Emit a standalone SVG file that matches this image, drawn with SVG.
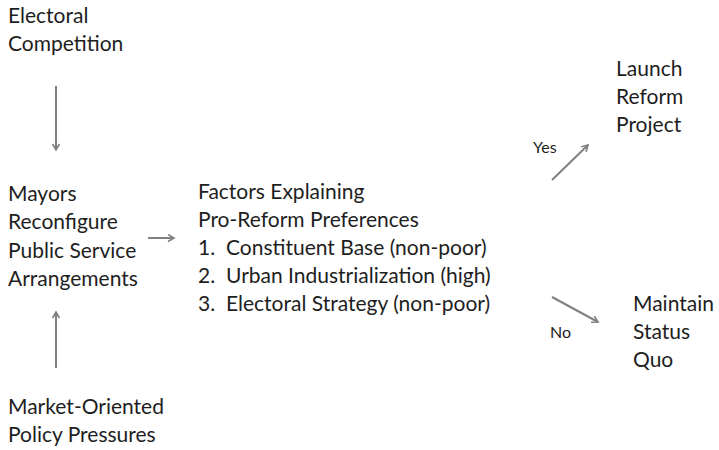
<svg xmlns="http://www.w3.org/2000/svg" width="719" height="450" viewBox="0 0 719 450">
<defs>
<marker id="ah" markerWidth="9" markerHeight="9" refX="7" refY="4.5" orient="auto" markerUnits="userSpaceOnUse">
<path d="M1,1 L7,4.5 L1,8" fill="none" stroke="#808080" stroke-width="1.6"/>
</marker>
</defs>
<style>
.t{font-family:"Lato","Open Sans","Liberation Sans",sans-serif;font-size:21px;fill:#1e1e1e}
.s{font-family:"Lato","Open Sans","Liberation Sans",sans-serif;font-size:16px;fill:#1e1e1e}
.c{stroke:#808080;stroke-width:2;fill:none;marker-end:url(#ah)}
</style>
<rect width="719" height="450" fill="#fff"/>
<g id="electoral"><text class="t" x="8" y="23">Electoral</text><text class="t" x="8" y="51">Competition</text></g>
<g id="mayors"><text class="t" x="8" y="201">Mayors</text><text class="t" x="8" y="229">Reconfigure</text><text class="t" x="8" y="258">Public Service</text><text class="t" x="8" y="286">Arrangements</text></g>
<g id="market"><text class="t" x="8" y="414">Market-Oriented</text><text class="t" x="8" y="442">Policy Pressures</text></g>
<g id="factors"><text class="t" x="198" y="199">Factors Explaining</text><text class="t" x="198" y="227">Pro-Reform Preferences</text>
<text class="t" x="198" y="255">1.</text><text class="t" x="226" y="255">Constituent Base (non-poor)</text>
<text class="t" x="198" y="283">2.</text><text class="t" x="226" y="283">Urban Industrialization (high)</text>
<text class="t" x="198" y="311">3.</text><text class="t" x="226" y="311">Electoral Strategy (non-poor)</text></g>
<g id="launch"><text class="t" x="616" y="76">Launch</text><text class="t" x="616" y="104">Reform</text><text class="t" x="616" y="132">Project</text></g>
<g id="maintain"><text class="t" x="633" y="311">Maintain</text><text class="t" x="633" y="339">Status</text><text class="t" x="633" y="367">Quo</text></g>
<g id="connectors">
<line class="c" x1="56" y1="86" x2="56" y2="150"/>
<line class="c" x1="56" y1="368" x2="56" y2="312"/>
<line class="c" x1="148" y1="238" x2="174" y2="238"/>
<line class="c" x1="552" y1="180" x2="588" y2="145"/>
<line class="c" x1="552" y1="297" x2="598" y2="322"/>
<text class="s" x="533" y="153">Yes</text>
<text class="s" x="550" y="338">No</text>
</g>
</svg>
